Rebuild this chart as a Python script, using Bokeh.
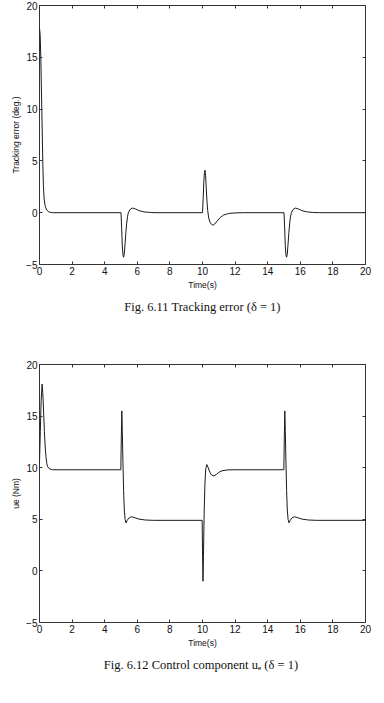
from bokeh.plotting import figure
from bokeh.layouts import column
from bokeh.models import FixedTicker, LinearAxis, Range1d
from bokeh.embed import file_html
from bokeh.resources import INLINE

# ---- data ----
t_err = [0.0, 0.04, 0.08, 0.11, 0.14, 0.17, 0.2, 0.24, 0.28, 0.33, 0.38, 0.45, 0.55, 0.65, 0.8,
         5.0, 5.04, 5.08, 5.12, 5.16, 5.2, 5.25, 5.3, 5.35, 5.4, 5.45, 5.55, 5.7, 5.9, 6.1, 6.4, 6.8, 7.2,
         10.0, 10.04, 10.08, 10.12, 10.15, 10.19, 10.23, 10.27, 10.32, 10.38, 10.45, 10.55, 10.65,
         10.75, 10.9, 11.1, 11.3, 11.6, 12.0, 12.5,
         15.0, 15.04, 15.08, 15.12, 15.16, 15.2, 15.25, 15.3, 15.35, 15.4, 15.45, 15.55, 15.7, 15.9,
         16.1, 16.4, 16.8, 17.2, 20.0]
err = [17.8, 17.2, 15.0, 12.5, 10.0, 7.5, 5.0, 2.6, 1.4, 0.8, 0.5, 0.25, 0.1, 0.04, 0.0,
       0.0, -1.5, -3.2, -4.1, -4.3, -4.0, -3.0, -1.9, -1.0, -0.4, 0.0, 0.3, 0.45, 0.35, 0.2, 0.08, 0.02, 0.0,
       0.0, 1.3, 3.0, 3.9, 4.1, 3.6, 2.4, 1.2, 0.2, -0.5, -0.9, -1.12, -1.2,
       -1.1, -0.8, -0.45, -0.22, -0.08, -0.02, 0.0,
       0.0, -1.5, -3.2, -4.1, -4.3, -4.0, -3.0, -1.9, -1.0, -0.4, 0.0, 0.3, 0.45, 0.35,
       0.2, 0.08, 0.02, 0.0, 0.0]

t_ue = [0.0, 0.05, 0.1, 0.16, 0.2, 0.25, 0.3, 0.35, 0.4, 0.45, 0.5, 0.6, 0.8,
        4.99, 5.02, 5.05, 5.08, 5.12, 5.16, 5.2, 5.25, 5.31, 5.38, 5.5, 5.65, 5.85, 6.1, 6.5, 7.0,
        9.98, 10.0, 10.03, 10.06, 10.1, 10.15, 10.2, 10.27, 10.35, 10.45, 10.55, 10.7, 10.85,
        11.0, 11.2, 11.5, 12.0,
        14.99, 15.02, 15.05, 15.08, 15.12, 15.16, 15.2, 15.25, 15.31, 15.38, 15.5, 15.65, 15.85,
        16.1, 16.5, 17.0, 20.0]
ue = [10.5, 13.5, 16.5, 18.1, 17.3, 15.5, 13.5, 12.0, 11.0, 10.4, 10.1, 9.9, 9.8,
      9.8, 13.0, 15.5, 13.5, 10.5, 7.8, 6.0, 5.0, 4.65, 4.9, 5.15, 5.25, 5.15, 5.02, 4.93, 4.9,
      4.9, 2.0, -1.0, 1.5, 5.5, 8.5, 9.9, 10.3, 10.0, 9.55, 9.3, 9.2, 9.35,
      9.55, 9.7, 9.78, 9.8,
      9.8, 13.0, 15.5, 13.5, 10.5, 7.8, 6.0, 5.0, 4.65, 4.9, 5.15, 5.25, 5.15,
      5.02, 4.93, 4.9, 4.9]

x_ticks = [0, 2, 4, 6, 8, 10, 12, 14, 16, 18, 20]
y_ticks = [-5, 0, 5, 10, 15, 20]

SANS = "Liberation Sans"
SERIF = "Liberation Serif"
FRAME = "#333333"


def make_fig(t, y, ylabel, caption, height, top, bottom, left, right):
    p = figure(width=384, height=height, output_backend="svg", toolbar_location=None,
               x_range=Range1d(0, 20), y_range=Range1d(-5, 20),
               title=caption, title_location="below",
               min_border_left=left, min_border_right=right,
               min_border_top=top, min_border_bottom=bottom)
    p.line(t, y, line_color="#1a1a1a", line_width=1.0)
    p.grid.visible = False
    p.outline_line_color = FRAME
    p.outline_line_width = 1
    p.background_fill_color = "white"
    p.border_fill_color = "white"

    for ax in p.xaxis:
        ax.ticker = FixedTicker(ticks=x_ticks)
        ax.axis_label = "Time(s)"
    for ax in p.yaxis:
        ax.ticker = FixedTicker(ticks=y_ticks)
        ax.axis_label = ylabel
        ax.major_label_overrides = {-5: "\u22125"}
    for ax in p.xaxis + p.yaxis:
        ax.axis_line_color = None
        ax.major_tick_in = 3
        ax.major_tick_out = 0
        ax.minor_tick_line_color = None
        ax.major_tick_line_color = FRAME
        ax.major_label_text_font = SANS
        ax.major_label_text_font_size = "10px"
        ax.major_label_text_color = "#111111"
        ax.axis_label_text_font = SANS
        ax.axis_label_text_font_size = "8.5px"
        ax.axis_label_text_font_style = "normal"
        ax.axis_label_text_color = "#111111"
        ax.major_label_standoff = 2
        ax.axis_label_standoff = 2

    top_ax = LinearAxis(ticker=FixedTicker(ticks=x_ticks), major_label_text_color=None,
                        axis_line_color=None, major_tick_in=3, major_tick_out=0,
                        major_label_standoff=0,
                        minor_tick_line_color=None, major_tick_line_color=FRAME)
    right_ax = LinearAxis(ticker=FixedTicker(ticks=y_ticks), major_label_text_color=None,
                          axis_line_color=None, major_tick_in=3, major_tick_out=0,
                          major_label_standoff=0,
                          minor_tick_line_color=None, major_tick_line_color=FRAME)
    p.add_layout(top_ax, "above")
    p.add_layout(right_ax, "right")

    p.title.align = "center"
    p.title.text_font = SERIF
    p.title.text_font_size = "12.5px"
    p.title.text_font_style = "normal"
    p.title.text_color = "#111111"
    p.title.offset = -9
    return p


p1 = make_fig(t_err, err, "Tracking error (deg.)", "Fig. 6.11 Tracking error (\u03b4 = 1)",
              351, 5, 87, 39, 17)
p2 = make_fig(t_ue, ue, "ue (Nm)", "Fig. 6.12 Control component  u\u2091 (\u03b4 = 1)",
              352, 13, 81, 37, 19)

layout = column(p1, p2, spacing=0)
open("out.html", "w").write(file_html(layout, INLINE))
